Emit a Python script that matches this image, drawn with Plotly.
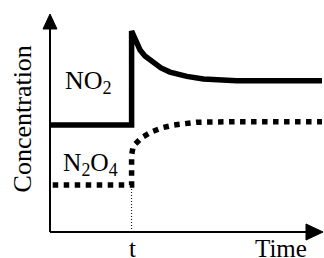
import plotly.graph_objects as go

# Data (arbitrary units: time 0-10, concentration 0-10)
t_change = 3.0
no2_time = [0.0, 3.0, 3.0, 3.09, 3.19, 3.31, 3.49, 3.80, 4.08, 4.41, 5.03, 5.64, 6.25, 6.86, 10.0]
no2_conc = [4.93, 4.93, 9.26, 8.99, 8.66, 8.39, 8.11, 7.79, 7.56, 7.37, 7.17, 7.05, 6.99, 6.97, 6.97]
n2o4_time = [0.1, 3.0, 3.0, 3.0, 3.06, 3.37, 3.74, 4.14, 4.56, 4.96, 5.39, 6.68, 10.0]
n2o4_conc = [2.17, 2.17, 3.01, 3.55, 3.96, 4.35, 4.62, 4.81, 4.93, 5.01, 5.06, 5.08, 5.08]

FONT = "Liberation Serif, Times New Roman, serif"

fig = go.Figure()
fig.add_trace(go.Scatter(x=no2_time, y=no2_conc, mode="lines",
                         line=dict(color="black", width=5.5),
                         hoverinfo="skip", cliponaxis=False))
fig.add_trace(go.Scatter(x=n2o4_time, y=n2o4_conc, mode="lines",
                         line=dict(color="black", width=5.5, dash="5.5px,5.5px"),
                         hoverinfo="skip", cliponaxis=False))
# thin dotted guide at t
fig.add_trace(go.Scatter(x=[t_change, t_change], y=[0, n2o4_conc[0]], mode="lines",
                         line=dict(color="black", width=1, dash="1px,2px"),
                         hoverinfo="skip"))

shapes = [
    dict(type="line", xref="paper", yref="paper", x0=0, y0=0, x1=0, y1=0.94,
         line=dict(color="black", width=2)),
    dict(type="line", xref="paper", yref="paper", x0=0, y0=0, x1=0.95, y1=0,
         line=dict(color="black", width=2)),
    dict(type="path", xref="paper", yref="paper",
         path="M0,1.0046L-0.0257,0.9355L0.0257,0.9355Z",
         fillcolor="black", line=dict(color="black", width=1)),
    dict(type="path", xref="paper", yref="paper",
         path="M1.0037,0L0.9412,0.0369L0.9412,-0.0369Z",
         fillcolor="black", line=dict(color="black", width=1)),
]

annotations = [
    dict(text="NO<sub>2</sub>", x=0.48, y=6.89, xref="x", yref="y",
         xanchor="left", yanchor="middle", showarrow=False,
         font=dict(family=FONT, size=26, color="black")),
    dict(text="N<sub>2</sub>O<sub>4</sub>", x=0.42, y=3.12, xref="x", yref="y",
         xanchor="left", yanchor="middle", showarrow=False,
         font=dict(family=FONT, size=25.5, color="black")),
    dict(text="t", x=t_change + 0.05, y=-0.076, xref="x", yref="paper",
         xanchor="center", yanchor="middle", showarrow=False,
         font=dict(family=FONT, size=25, color="black")),
    dict(text="Time", x=8.49, y=-0.076, xref="x", yref="paper",
         xanchor="center", yanchor="middle", showarrow=False,
         font=dict(family=FONT, size=25, color="black")),
    dict(text="Concentration", x=-0.0996, y=0.523, xref="paper", yref="paper",
         xanchor="center", yanchor="middle", showarrow=False, textangle=-90,
         font=dict(family=FONT, size=26, color="black")),
]

fig.update_layout(
    width=324, height=258,
    margin=dict(l=50, r=2, t=15, b=26, autoexpand=False),
    paper_bgcolor="white", plot_bgcolor="white",
    showlegend=False,
    xaxis=dict(range=[0, 10], visible=False, fixedrange=True),
    yaxis=dict(range=[0, 10], visible=False, fixedrange=True),
    shapes=shapes, annotations=annotations,
)

fig.write_html("out.html", config={"displayModeBar": False},
               post_script="document.body.style.margin='0';document.body.style.overflow='hidden';")
